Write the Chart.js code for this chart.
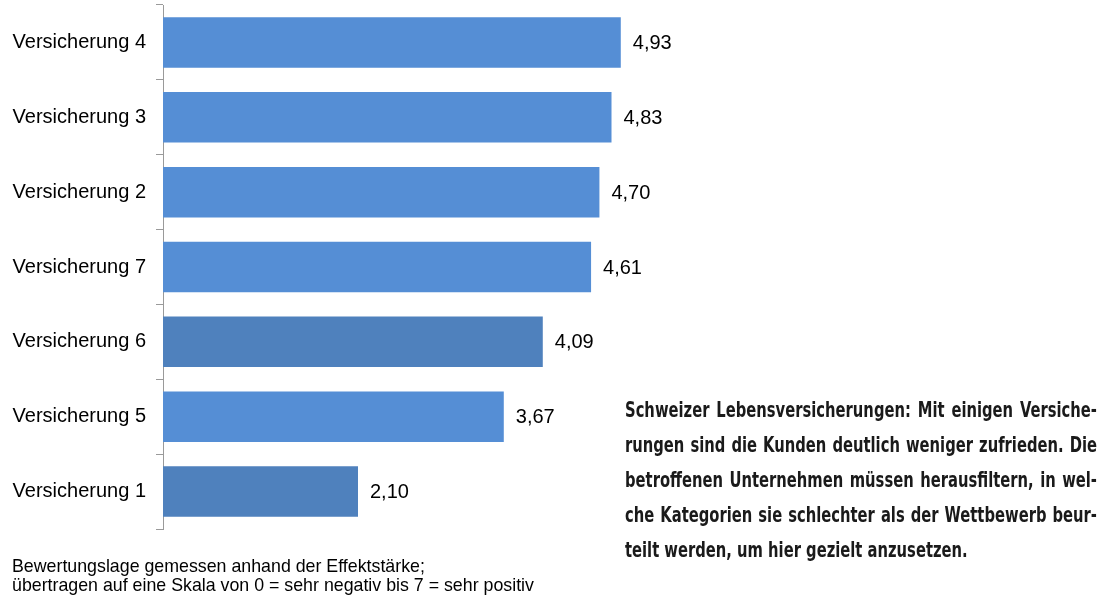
<!DOCTYPE html>
<html>
<head>
<meta charset="utf-8">
<script src="https://cdn.jsdelivr.net/npm/chart.js@4/dist/chart.umd.min.js"></script>
<style>
  body { margin: 0; background: #fff; }
  #wrap { position: relative; width: 1102px; height: 599px; overflow: hidden; }
  canvas { position: absolute; left: 0; top: 0; }
  .note { position: absolute; left: 12px; top: 557px; font: 17.8px "Liberation Sans", Arial, sans-serif; line-height: 19px; color: #000; white-space: nowrap; }
  .caption { position: absolute; left: 625px; top: 393px; width: 590px; transform: scaleX(0.80); transform-origin: 0 0; font: bold 20.5px "DejaVu Sans Condensed", "Liberation Sans Narrow", sans-serif; color: #1a1a1a; }
  .caption div { height: 35px; line-height: 35px; text-align: justify; text-align-last: justify; white-space: nowrap; }
  .caption div.last { text-align-last: left; }
</style>
</head>
<body>
<div id="wrap">
  <canvas id="barChart" width="1102" height="599"></canvas>
  <div class="note">Bewertungslage gemessen anhand der Effektstärke;<br>übertragen auf eine Skala von 0 = sehr negativ bis 7 = sehr positiv</div>
  <div class="caption">
    <div>Schweizer Lebensversicherungen: Mit einigen Versiche-</div>
    <div>rungen sind die Kunden deutlich weniger zufrieden. Die</div>
    <div>betroffenen Unternehmen müssen herausfiltern, in wel-</div>
    <div>che Kategorien sie schlechter als der Wettbewerb beur-</div>
    <div class="last">teilt werden, um hier gezielt anzusetzen.</div>
  </div>
</div>
<script>
const labels = ['Versicherung 4', 'Versicherung 3', 'Versicherung 2', 'Versicherung 7', 'Versicherung 6', 'Versicherung 5', 'Versicherung 1'];
const values = [4.93, 4.83, 4.70, 4.61, 4.09, 3.67, 2.10];
const barColors = ['#558ED5', '#558ED5', '#558ED5', '#558ED5', '#4F81BD', '#558ED5', '#4F81BD'];

const valueLabels = {
    id: 'valueLabels',
    afterDatasetsDraw(chart) {
        const c = chart.ctx;
        const meta = chart.getDatasetMeta(0);
        c.save();
        c.font = '20px "Liberation Sans", Arial, sans-serif';
        c.fillStyle = '#000';
        c.textAlign = 'left';
        c.textBaseline = 'middle';
        meta.data.forEach(function(bar, i) {
            c.fillText(values[i].toFixed(2).replace('.', ','), bar.x + 12, bar.y + 1);
        });
        c.restore();
    }
};

const ctx = document.getElementById('barChart').getContext('2d');
const barChart = new Chart(ctx, {
    type: 'bar',
    data: {
        labels: labels,
        datasets: [{
            data: values,
            backgroundColor: barColors,
            borderWidth: 0,
            categoryPercentage: 1,
            barPercentage: 0.675
        }]
    },
    options: {
        indexAxis: 'y',
        responsive: false,
        animation: false,
        layout: {
            padding: { top: 5, bottom: 70, right: 289, left: 0 }
        },
        scales: {
            x: {
                display: false,
                min: 0,
                max: 7
            },
            y: {
                afterFit: function(scale) {
                    scale.width = 163;
                    scale.paddingTop = 0;
                    scale.paddingBottom = 0;
                },
                border: { display: true, color: '#9a9a9a', width: 1 },
                grid: {
                    display: true,
                    drawOnChartArea: false,
                    drawTicks: true,
                    tickLength: 7,
                    color: '#9a9a9a',
                    offset: true
                },
                ticks: {
                    color: '#000',
                    padding: 10,
                    font: { family: '"Liberation Sans", Arial, sans-serif', size: 20 }
                }
            }
        },
        plugins: {
            legend: { display: false },
            tooltip: { enabled: false }
        }
    },
    plugins: [valueLabels]
});
</script>
</body>
</html>
